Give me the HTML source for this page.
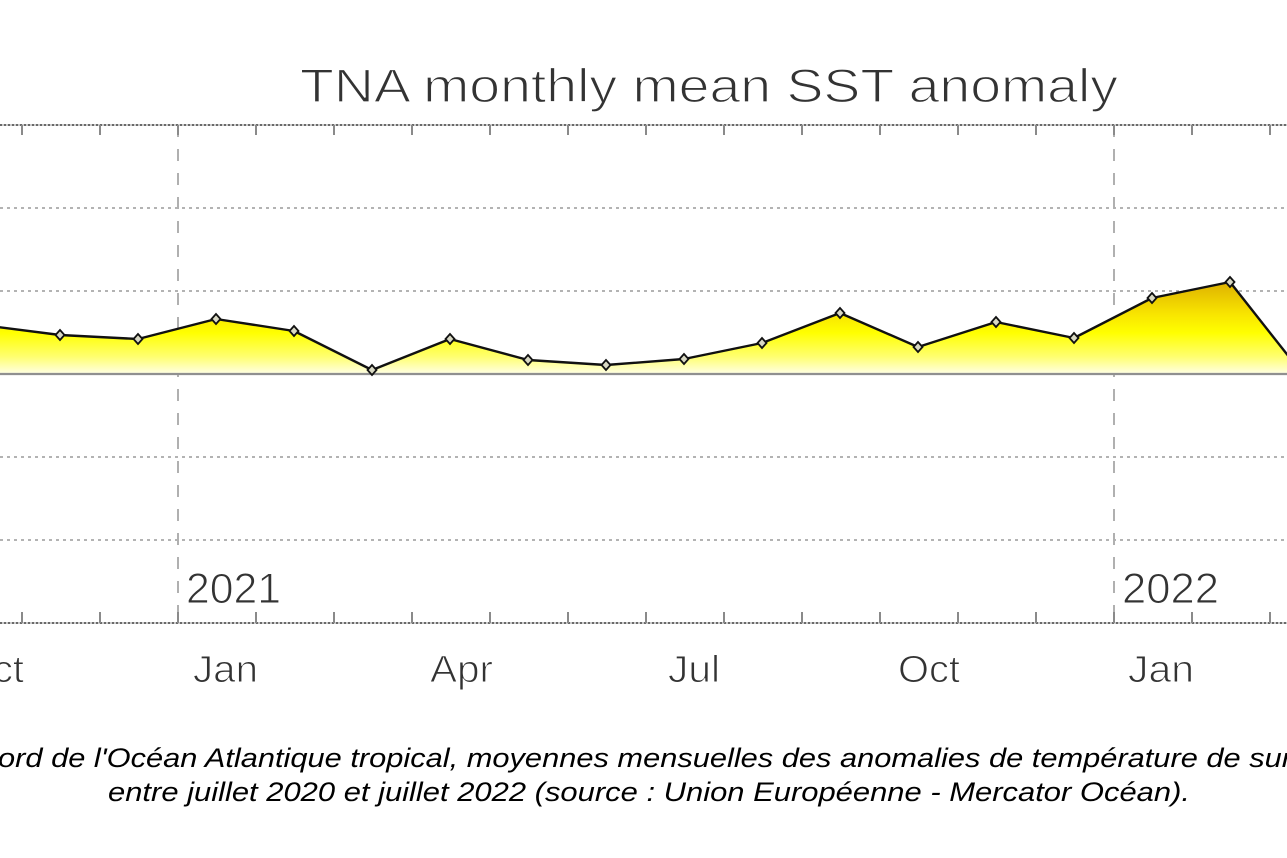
<!DOCTYPE html>
<html>
<head>
<meta charset="utf-8">
<style>
html,body{margin:0;padding:0;background:#fff;}
svg{display:block;}
</style>
</head>
<body>
<svg width="1287" height="858" viewBox="0 0 1287 858" xmlns="http://www.w3.org/2000/svg">
<defs>
<linearGradient id="g" gradientUnits="userSpaceOnUse" x1="0" y1="280" x2="0" y2="376">
<stop offset="0" stop-color="#dcae00"/>
<stop offset="0.35" stop-color="#f8e400"/>
<stop offset="0.55" stop-color="#ffff00"/>
<stop offset="0.8" stop-color="#ffff70"/>
<stop offset="1" stop-color="#fffff4"/>
</linearGradient>
</defs>
<rect width="1287" height="858" fill="#fff"/>

<!-- title -->
<text x="300" y="102" font-family="Liberation Sans, sans-serif" font-size="47" fill="#333" stroke="#fff" stroke-width="1.3" textLength="818" lengthAdjust="spacingAndGlyphs">TNA monthly mean SST anomaly</text>

<!-- gridlines -->
<g stroke="#9a9a9a" stroke-width="1.5" stroke-dasharray="3,4">
<line x1="0" y1="208" x2="1287" y2="208"/>
<line x1="0" y1="291" x2="1287" y2="291"/>
<line x1="0" y1="457" x2="1287" y2="457"/>
<line x1="0" y1="540" x2="1287" y2="540"/>
</g>

<!-- year lines -->
<g stroke="#b0b0b0" stroke-width="2" stroke-dasharray="12,12">
<line x1="178" y1="125" x2="178" y2="623"/>
<line x1="1114" y1="125" x2="1114" y2="623"/>
</g>

<!-- fill -->
<polygon fill="url(#g)" points="-18,374 -18,325 60,335 138,339 216,319 294,331 372,370 450,339 528,360 606,365 684,359 762,343 840,313 918,347 996,322 1074,338 1152,298 1230,282 1302,374"/>

<!-- zero line -->
<line x1="0" y1="374" x2="1287" y2="374" stroke="#909090" stroke-width="2.2"/>

<!-- data line -->
<polyline fill="none" stroke="#111" stroke-width="2.4" stroke-linejoin="round" points="-18,325 60,335 138,339 216,319 294,331 372,370 450,339 528,360 606,365 684,359 762,343 840,313 918,347 996,322 1074,338 1152,298 1230,282 1308,381"/>

<!-- markers -->
<g fill="#d9d9c4" stroke="#111" stroke-width="1.8">
<path d="M60,330 L64.5,335 L60,340 L55.5,335 Z"/>
<path d="M138,334 L142.5,339 L138,344 L133.5,339 Z"/>
<path d="M216,314 L220.5,319 L216,324 L211.5,319 Z"/>
<path d="M294,326 L298.5,331 L294,336 L289.5,331 Z"/>
<path d="M372,365 L376.5,370 L372,375 L367.5,370 Z"/>
<path d="M450,334 L454.5,339 L450,344 L445.5,339 Z"/>
<path d="M528,355 L532.5,360 L528,365 L523.5,360 Z"/>
<path d="M606,360 L610.5,365 L606,370 L601.5,365 Z"/>
<path d="M684,354 L688.5,359 L684,364 L679.5,359 Z"/>
<path d="M762,338 L766.5,343 L762,348 L757.5,343 Z"/>
<path d="M840,308 L844.5,313 L840,318 L835.5,313 Z"/>
<path d="M918,342 L922.5,347 L918,352 L913.5,347 Z"/>
<path d="M996,317 L1000.5,322 L996,327 L991.5,322 Z"/>
<path d="M1074,333 L1078.5,338 L1074,343 L1069.5,338 Z"/>
<path d="M1152,293 L1156.5,298 L1152,303 L1147.5,298 Z"/>
<path d="M1230,277 L1234.5,282 L1230,287 L1225.5,282 Z"/>
</g>

<!-- axes top & bottom -->
<line x1="0" y1="125" x2="1287" y2="125" stroke="#b8b8b8" stroke-width="1.5"/>
<line x1="0" y1="125" x2="1287" y2="125" stroke="#444" stroke-width="1.5" stroke-dasharray="2,2"/>
<line x1="0" y1="623" x2="1287" y2="623" stroke="#b8b8b8" stroke-width="1.5"/>
<line x1="0" y1="623" x2="1287" y2="623" stroke="#444" stroke-width="1.5" stroke-dasharray="2,2"/>

<!-- ticks -->
<g stroke="#8a8a8a" stroke-width="2">
<line x1="22" y1="125" x2="22" y2="135"/><line x1="22" y1="612" x2="22" y2="623"/>
<line x1="100" y1="125" x2="100" y2="135"/><line x1="100" y1="612" x2="100" y2="623"/>
<line x1="178" y1="125" x2="178" y2="135"/><line x1="178" y1="612" x2="178" y2="623"/>
<line x1="256" y1="125" x2="256" y2="135"/><line x1="256" y1="612" x2="256" y2="623"/>
<line x1="334" y1="125" x2="334" y2="135"/><line x1="334" y1="612" x2="334" y2="623"/>
<line x1="412" y1="125" x2="412" y2="135"/><line x1="412" y1="612" x2="412" y2="623"/>
<line x1="490" y1="125" x2="490" y2="135"/><line x1="490" y1="612" x2="490" y2="623"/>
<line x1="568" y1="125" x2="568" y2="135"/><line x1="568" y1="612" x2="568" y2="623"/>
<line x1="646" y1="125" x2="646" y2="135"/><line x1="646" y1="612" x2="646" y2="623"/>
<line x1="724" y1="125" x2="724" y2="135"/><line x1="724" y1="612" x2="724" y2="623"/>
<line x1="802" y1="125" x2="802" y2="135"/><line x1="802" y1="612" x2="802" y2="623"/>
<line x1="880" y1="125" x2="880" y2="135"/><line x1="880" y1="612" x2="880" y2="623"/>
<line x1="958" y1="125" x2="958" y2="135"/><line x1="958" y1="612" x2="958" y2="623"/>
<line x1="1036" y1="125" x2="1036" y2="135"/><line x1="1036" y1="612" x2="1036" y2="623"/>
<line x1="1114" y1="125" x2="1114" y2="135"/><line x1="1114" y1="612" x2="1114" y2="623"/>
<line x1="1192" y1="125" x2="1192" y2="135"/><line x1="1192" y1="612" x2="1192" y2="623"/>
<line x1="1270" y1="125" x2="1270" y2="135"/><line x1="1270" y1="612" x2="1270" y2="623"/>
</g>

<!-- year labels -->
<g font-family="Liberation Sans, sans-serif" font-size="43" fill="#333" stroke="#fff" stroke-width="1">
<text x="186" y="603" textLength="95" lengthAdjust="spacingAndGlyphs">2021</text>
<text x="1122" y="603" textLength="97" lengthAdjust="spacingAndGlyphs">2022</text>
</g>

<!-- month labels -->
<g font-family="Liberation Sans, sans-serif" font-size="38" fill="#333" stroke="#fff" stroke-width="1">
<text x="-38" y="682" textLength="62" lengthAdjust="spacingAndGlyphs">Oct</text>
<text x="193" y="682" textLength="65" lengthAdjust="spacingAndGlyphs">Jan</text>
<text x="430" y="682" textLength="63" lengthAdjust="spacingAndGlyphs">Apr</text>
<text x="668" y="682" textLength="52" lengthAdjust="spacingAndGlyphs">Jul</text>
<text x="898" y="682" textLength="62" lengthAdjust="spacingAndGlyphs">Oct</text>
<text x="1128" y="682" textLength="66" lengthAdjust="spacingAndGlyphs">Jan</text>
</g>

<!-- caption -->
<g font-family="Liberation Sans, sans-serif" font-style="italic" font-size="27" fill="#000">
<text x="-2" y="767" textLength="1294" lengthAdjust="spacingAndGlyphs">ord de l'Océan Atlantique tropical, moyennes mensuelles des anomalies de température de sur</text>
<text x="108" y="801" textLength="1082" lengthAdjust="spacingAndGlyphs">entre juillet 2020 et juillet 2022 (source : Union Européenne - Mercator Océan).</text>
</g>
</svg>
</body>
</html>
